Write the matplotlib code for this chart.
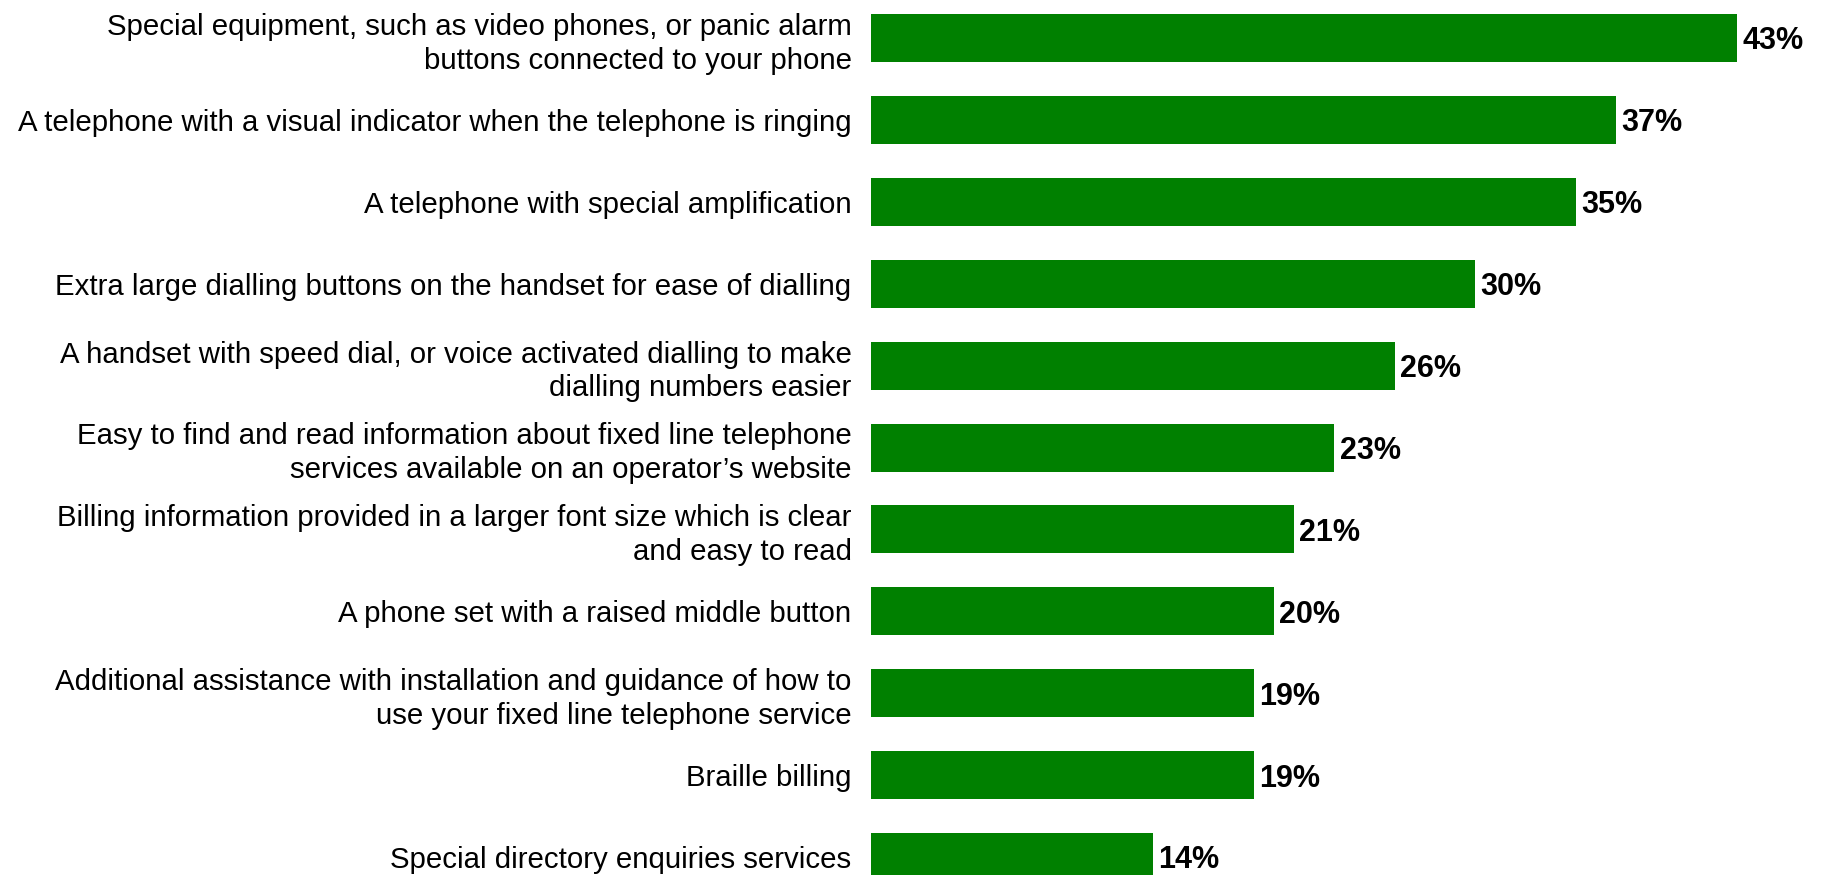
import matplotlib
matplotlib.use("Agg")
import matplotlib.pyplot as plt

plt.rcParams['font.family'] = ['Liberation Sans', 'DejaVu Sans']

categories = [
    "Special equipment, such as video phones, or panic alarm\nbuttons connected to your phone",
    "A telephone with a visual indicator when the telephone is ringing",
    "A telephone with special amplification",
    "Extra large dialling buttons on the handset for ease of dialling",
    "A handset with speed dial, or voice activated dialling to make\ndialling numbers easier",
    "Easy to find and read information about fixed line telephone\nservices available on an operator\u2019s website",
    "Billing information provided in a larger font size which is clear\nand easy to read",
    "A phone set with a raised middle button",
    "Additional assistance with installation and guidance of how to\nuse your fixed line telephone service",
    "Braille billing",
    "Special directory enquiries services",
]
values = [43, 37, 35, 30, 26, 23, 21, 20, 19, 19, 14]

W, H, DPI = 1825, 875, 100
fig = plt.figure(figsize=(W / DPI, H / DPI), dpi=DPI)
left_px = 871
ax = fig.add_axes([left_px / W, 0, 1 - left_px / W, 1])

px_per_pct = 866 / 43
ax.set_xlim(0, (W - left_px) / px_per_pct)
row_px = 81.9
first_center = 38
ax.set_ylim((H - first_center) / row_px, -first_center / row_px)

pos = list(range(len(categories)))
bars = ax.barh(pos, values, height=48 / row_px, color="#008000")

for b, v in zip(bars, values):
    ax.annotate(f"{v}%", (b.get_width(), b.get_y() + b.get_height() / 2),
                xytext=(4, -2.5), textcoords="offset points",
                ha="left", va="center", fontsize=22, fontweight="bold", color="black")

ax.set_yticks(pos)
ax.set_yticklabels(categories, fontsize=21.2, ha="right", linespacing=1.26)
ax.tick_params(axis="y", length=0, pad=14)
ax.tick_params(axis="x", bottom=False, labelbottom=False)
for s in ax.spines.values():
    s.set_visible(False)

fig.savefig("out.png", dpi=DPI)
